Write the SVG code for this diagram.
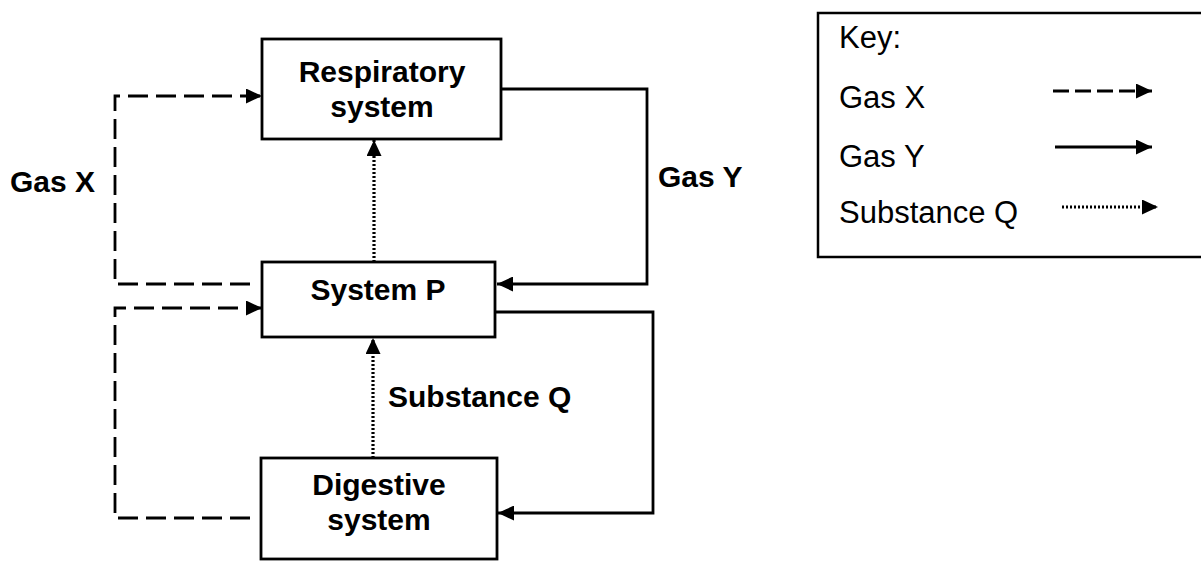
<svg xmlns="http://www.w3.org/2000/svg" width="1201" height="563" viewBox="0 0 1201 563">
<style>
.box{fill:#fff;stroke:#000;stroke-width:2.8}
.lbl{font-family:"Liberation Sans",Arial,sans-serif;font-weight:bold;font-size:30px;fill:#000}
.key{font-family:"Liberation Sans",Arial,sans-serif;font-size:31px;fill:#000}
.solid{fill:none;stroke:#000;stroke-width:2.8}
.dash{fill:none;stroke:#000;stroke-width:2.8;stroke-dasharray:20 8}
.dot{fill:none;stroke:#000;stroke-width:3.2;stroke-dasharray:2 2}
</style>
<defs>
<marker id="ah" markerUnits="userSpaceOnUse" markerWidth="17" markerHeight="15" refX="16" refY="7.5" orient="auto">
<path d="M0,0 L16,7.5 L0,15 Z" fill="#000"/>
</marker>
</defs>
<rect width="1201" height="563" fill="#fff"/>
<g id="respiratory">
<rect class="box" x="262" y="39" width="239" height="100"/>
<text class="lbl" x="382" y="82" text-anchor="middle">Respiratory</text>
<text class="lbl" x="382" y="117" text-anchor="middle">system</text>
</g>
<g id="systemP">
<rect class="box" x="262" y="262" width="233" height="75"/>
<text class="lbl" x="378" y="300" text-anchor="middle">System P</text>
</g>
<g id="digestive">
<rect class="box" x="261" y="458" width="236" height="101"/>
<text class="lbl" x="379" y="495" text-anchor="middle">Digestive</text>
<text class="lbl" x="379" y="530" text-anchor="middle">system</text>
</g>
<g id="connectors">
<path class="dash" d="M250,284 H115 V96 H262" marker-end="url(#ah)"/>
<path class="dash" d="M250,518 H115 V308 H262" marker-end="url(#ah)"/>
<path class="solid" d="M501,89 H647 V284 H497" marker-end="url(#ah)"/>
<path class="solid" d="M495,312 H653 V513 H498" marker-end="url(#ah)"/>
<path class="dot" d="M374,262 V140" marker-end="url(#ah)"/>
<path class="dot" d="M373,458 V338" marker-end="url(#ah)"/>
</g>
<g id="labels">
<text class="lbl" x="10" y="192">Gas X</text>
<text class="lbl" x="658" y="187">Gas Y</text>
<text class="lbl" x="388" y="407">Substance Q</text>
</g>
<g id="key">
<rect x="818" y="13" width="400" height="244" fill="#fff" stroke="#000" stroke-width="2.5"/>
<text class="key" x="839" y="48">Key:</text>
<text class="key" x="839" y="108">Gas X</text>
<text class="key" x="839" y="167">Gas Y</text>
<text class="key" x="839" y="223">Substance Q</text>
<path class="dash" d="M1053,91 H1152" marker-end="url(#ah)" style="stroke-dasharray:16 6"/>
<path class="solid" d="M1055,147 H1152" marker-end="url(#ah)"/>
<path class="dot" d="M1062,207 H1158" marker-end="url(#ah)"/>
</g>
</svg>
